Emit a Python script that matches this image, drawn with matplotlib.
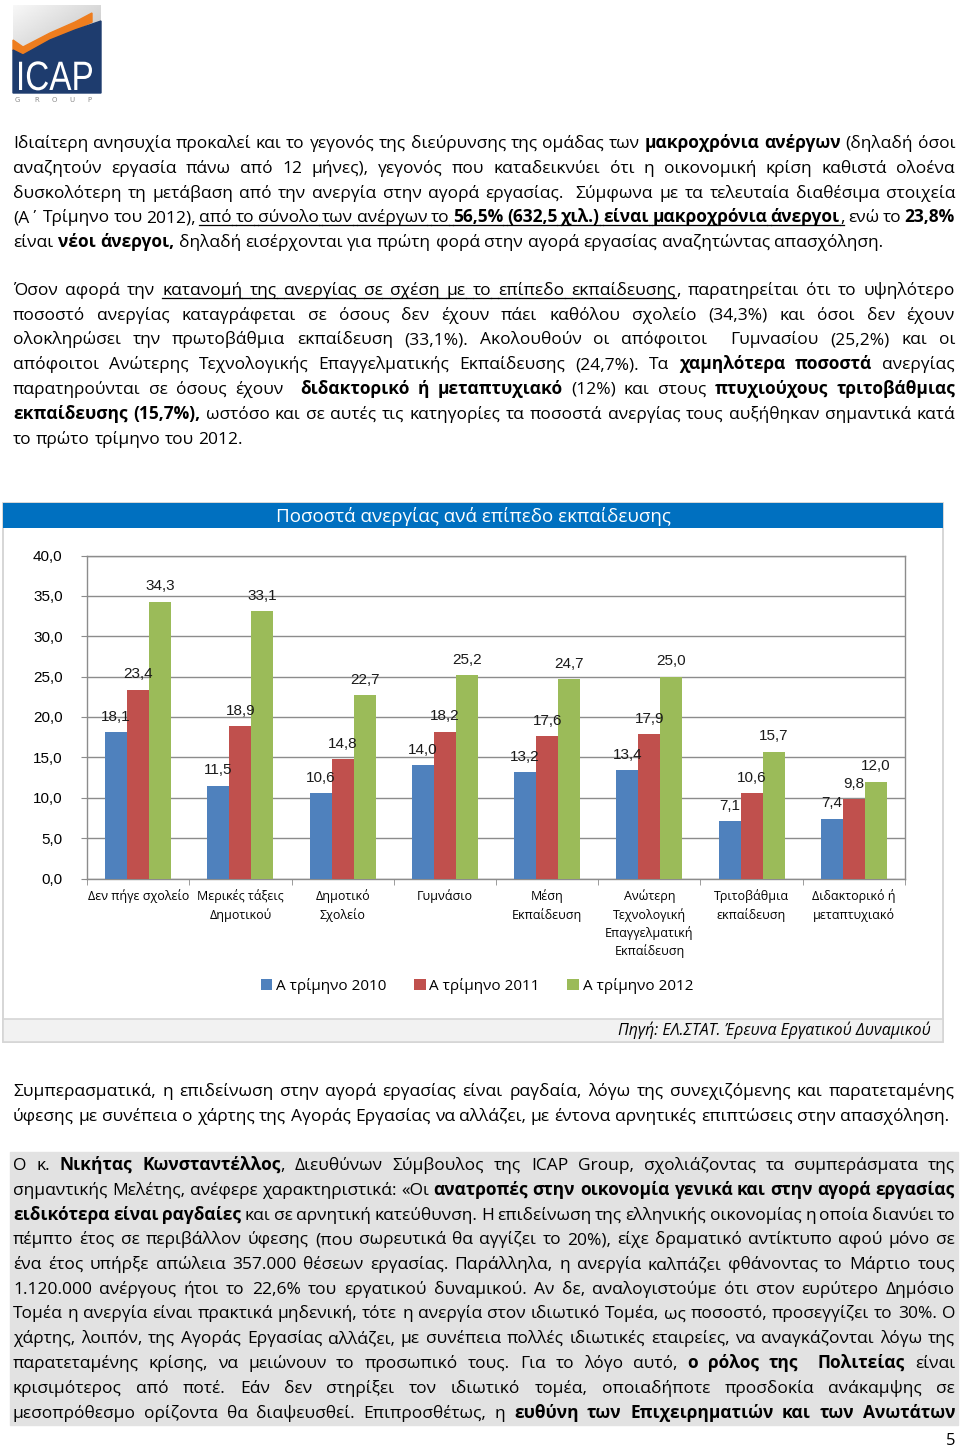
import re
import numpy as np
import matplotlib
matplotlib.use("Agg")
import matplotlib.pyplot as plt
from matplotlib.patches import Rectangle, Polygon, PathPatch
from matplotlib.textpath import TextPath
from matplotlib.font_manager import FontProperties
from matplotlib.transforms import Affine2D

# chart data
categories = ["Δεν πήγε σχολείο", "Μερικές τάξεις\nΔημοτικού", "Δημοτικό\nΣχολείο",
              "Γυμνάσιο", "Μέση\nΕκπαίδευση",
              "Ανώτερη\nΤεχνολογική\nΕπαγγελματική\nΕκπαίδευση",
              "Τριτοβάθμια\nεκπαίδευση", "Διδακτορικό ή\nμεταπτυχιακό"]
series = ["Α τρίμηνο 2010", "Α τρίμηνο 2011", "Α τρίμηνο 2012"]
q1_2010 = [18.1, 11.5, 10.6, 14.0, 13.2, 13.4, 7.1, 7.4]
q1_2011 = [23.4, 18.9, 14.8, 18.2, 17.6, 17.9, 10.6, 9.8]
q1_2012 = [34.3, 33.1, 22.7, 25.2, 24.7, 25.0, 15.7, 12.0]
yticks = [0, 5, 10, 15, 20, 25, 30, 35, 40]
ytick_labels = ["0,0", "5,0", "10,0", "15,0", "20,0", "25,0", "30,0", "35,0", "40,0"]
colors = ["#4F81BD", "#C0504D", "#9BBB59"]
title = "Ποσοστά ανεργίας ανά επίπεδο εκπαίδευσης"
source = "Πηγή: ΕΛ.ΣΤΑΤ. Έρευνα Εργατικού Δυναμικού"

# page text: one list of (text, style) runs per printed line
par1 = [
    [("Ιδιαίτερη ανησυχία προκαλεί και το γεγονός της διεύρυνσης της ομάδας των ", "n"),
     ("μακροχρόνια ανέργων", "b"), (" (δηλαδή όσοι", "n")],
    [("αναζητούν εργασία πάνω από 12 μήνες), γεγονός που καταδεικνύει ότι η οικονομική κρίση καθιστά ολοένα", "n")],
    [("δυσκολότερη τη μετάβαση από την ανεργία στην αγορά εργασίας.  Σύμφωνα με τα τελευταία διαθέσιμα στοιχεία", "n")],
    [("(Α΄ Τρίμηνο του 2012), ", "n"), ("από το σύνολο των ανέργων το ", "u"),
     ("56,5% (632,5 χιλ.) είναι μακροχρόνια άνεργοι", "bu"), (",", "u"),
     (" ενώ το ", "n"), ("23,8%", "b")],
    [("είναι ", "n"), ("νέοι άνεργοι,", "b"),
     (" δηλαδή εισέρχονται για πρώτη φορά στην αγορά εργασίας αναζητώντας απασχόληση.", "n")],
]
par2 = [
    [("Όσον αφορά την ", "n"), ("κατανομή της ανεργίας σε σχέση με το επίπεδο εκπαίδευσης", "u"),
     (", παρατηρείται ότι το υψηλότερο", "n")],
    [("ποσοστό ανεργίας καταγράφεται σε όσους δεν έχουν πάει καθόλου σχολείο (34,3%) και όσοι δεν έχουν", "n")],
    [("ολοκληρώσει την πρωτοβάθμια εκπαίδευση (33,1%). Ακολουθούν οι απόφοιτοι  Γυμνασίου (25,2%) και οι", "n")],
    [("απόφοιτοι Ανώτερης Τεχνολογικής Επαγγελματικής Εκπαίδευσης (24,7%). Τα ", "n"),
     ("χαμηλότερα ποσοστά", "b"), (" ανεργίας", "n")],
    [("παρατηρούνται σε όσους έχουν  ", "n"), ("διδακτορικό ή μεταπτυχιακό", "b"),
     (" (12%) και στους ", "n"), ("πτυχιούχους τριτοβάθμιας", "b")],
    [("εκπαίδευσης (15,7%),", "b"),
     (" ωστόσο και σε αυτές τις κατηγορίες τα ποσοστά ανεργίας τους αυξήθηκαν σημαντικά κατά", "n")],
    [("το πρώτο τρίμηνο του 2012.", "n")],
]
par3 = [
    [("Συμπερασματικά, η επιδείνωση στην αγορά εργασίας είναι ραγδαία, λόγω της συνεχιζόμενης και παρατεταμένης", "n")],
    [("ύφεσης με συνέπεια ο χάρτης της Αγοράς Εργασίας να αλλάζει, με έντονα αρνητικές επιπτώσεις στην απασχόληση.", "n")],
]
par4 = [
    [("Ο κ. ", "n"), ("Νικήτας Κωνσταντέλλος", "b"),
     (", Διευθύνων Σύμβουλος της ICAP Group, σχολιάζοντας τα συμπεράσματα της", "n")],
    [("σημαντικής Μελέτης, ανέφερε χαρακτηριστικά: «Οι ", "n"),
     ("ανατροπές στην οικονομία γενικά και στην αγορά εργασίας", "b")],
    [("ειδικότερα είναι ραγδαίες", "b"),
     (" και σε αρνητική κατεύθυνση. Η επιδείνωση της ελληνικής οικονομίας η οποία διανύει το", "n")],
    [("πέμπτο έτος σε περιβάλλον ύφεσης (που σωρευτικά θα αγγίζει το 20%), είχε δραματικό αντίκτυπο αφού μόνο σε", "n")],
    [("ένα έτος υπήρξε απώλεια 357.000 θέσεων εργασίας. Παράλληλα, η ανεργία καλπάζει φθάνοντας το Μάρτιο τους", "n")],
    [("1.120.000 ανέργους ήτοι το 22,6% του εργατικού δυναμικού. Αν δε, αναλογιστούμε ότι στον ευρύτερο Δημόσιο", "n")],
    [("Τομέα η ανεργία είναι πρακτικά μηδενική, τότε η ανεργία στον ιδιωτικό Τομέα, ως ποσοστό, προσεγγίζει το 30%. Ο", "n")],
    [("χάρτης, λοιπόν, της Αγοράς Εργασίας αλλάζει, με συνέπεια πολλές ιδιωτικές εταιρείες, να αναγκάζονται λόγω της", "n")],
    [("παρατεταμένης κρίσης, να μειώνουν το προσωπικό τους. Για το λόγο αυτό, ", "n"),
     ("ο ρόλος της  Πολιτείας", "b"), (" είναι", "n")],
    [("κρισιμότερος από ποτέ. Εάν δεν στηρίξει τον ιδιωτικό τομέα, οποιαδήποτε προσδοκία ανάκαμψης σε", "n")],
    [("μεσοπρόθεσμο ορίζοντα θα διαψευσθεί. Επιπροσθέτως, η ", "n"),
     ("ευθύνη των Επιχειρηματιών και των Ανωτάτων", "b")],
]

BODY = "Open Sans"

fig = plt.figure(figsize=(9.6, 14.49), dpi=100)
pg = fig.add_axes([0, 0, 1, 1])
pg.set_xlim(0, 960)
pg.set_ylim(1449, 0)
pg.axis("off")
pg.set_autoscale_on(False)
r = fig.canvas.get_renderer()


def tw(s, bold, size):
    t = pg.text(0, 0, s, fontsize=size, family=BODY, fontweight="bold" if bold else "normal")
    w = t.get_window_extent(renderer=r).width
    t.remove()
    return w


def split_words(line):
    words = []
    pending = 0
    for text, st in line:
        for p in re.split(r"( +)", text):
            if p == "":
                continue
            if p.startswith(" "):
                pending += len(p)
            elif words and pending == 0:
                words[-1][1].append((p, st))
            else:
                words.append([pending, [(p, st)]])
                pending = 0
    return words


def layout(line, size):
    out = []
    for gap, frags in split_words(line):
        ws = [tw(t, "b" in st, size) for t, st in frags]
        out.append((gap, frags, ws))
    return out


def space_w(size):
    return tw("n n", False, size) - tw("nn", False, size)


def natural(words, sp):
    return sum(sum(ws) for _, _, ws in words) + sum(g for g, _, _ in words[1:]) * sp


def draw_par(lines, y, size, x0=13, x1=955, lead=24.75, justify_last=False):
    sp = space_w(size)
    for k, line in enumerate(lines):
        words = layout(line, size)
        nsp = sum(g for g, _, _ in words[1:])
        extra = 0
        if (k < len(lines) - 1 or justify_last) and nsp:
            extra = (x1 - x0 - natural(words, sp)) / nsp
        base = y + k * lead + 5
        x = x0
        prev_u = False
        for i, (gap, frags, ws) in enumerate(words):
            if i:
                xs = x
                x += gap * (sp + extra)
                if prev_u and "u" in frags[0][1]:
                    pg.plot([xs, x], [base + 2.5] * 2, color="black", lw=0.9)
            for (t, st), w in zip(frags, ws):
                pg.text(x, base, t, fontsize=size, family=BODY, va="baseline", ha="left",
                        fontweight="bold" if "b" in st else "normal", color="black")
                if "u" in st:
                    pg.plot([x, x + w], [base + 2.5] * 2, color="black", lw=0.9)
                x += w
            prev_u = "u" in frags[-1][1]


# body font size: fit the last line of par3 to its width in the page
FS = 10 * 935 / natural(layout(par3[1], 10), space_w(10))

# logo
grad = np.linspace(0.97, 0.78, 60)[:, None] * np.ones((1, 60))
grad = grad - np.linspace(0, 0.12, 60)[None, :]
pg.imshow(grad, cmap="gray", vmin=0, vmax=1, extent=(13, 101, 93, 5), aspect="auto", zorder=1)
pg.add_patch(Polygon([(13, 40), (23, 47), (50, 33), (75, 22), (92, 13),
                      (92, 22), (75, 30), (50, 40), (23, 55), (13, 50)],
                     closed=True, color="#EE7D1E", zorder=2))
pg.add_patch(Polygon([(13, 50), (23, 55), (50, 40), (75, 30), (101, 21), (101, 93), (13, 93)],
                     closed=True, color="#1E3C6E", zorder=2))
tp = TextPath((0, 0), "ICAP", size=1, prop=FontProperties(family="Liberation Sans"))
ext = tp.get_extents()
sx = 73 / ext.width
sy = 30 / 0.73
pp = PathPatch(Affine2D().scale(sx, -sy).translate(19 - ext.x0 * sx, 90).transform_path(tp),
               facecolor="white", edgecolor="none", zorder=3)
pg.add_patch(pp)
for lx, ch in zip([17, 37, 54, 72, 89], "GROUP"):
    pg.text(lx, 100, ch, fontsize=5, color="#8a8a8a", ha="center", va="center", family="DejaVu Sans")
pg.set_xlim(0, 960)
pg.set_ylim(1449, 0)

# paragraphs
draw_par(par1, 143, FS)
draw_par(par2, 290, FS)
draw_par(par3, 1091, FS)
pg.add_patch(Rectangle((10, 1152), 948, 273, color="#E2E2E2", zorder=0))
draw_par(par4, 1165, FS, justify_last=True)
pg.text(955, 1441, "5", fontsize=12, family=BODY, ha="right", va="center")

# chart frame
pg.add_patch(Rectangle((3, 503), 940, 539, facecolor="white", edgecolor="#D0D0D0", lw=1.2, zorder=0.5))
pg.add_patch(Rectangle((3, 1019), 940, 23, facecolor="#F2F2F2", edgecolor="#D6D6D6", lw=1.2, zorder=0.6))
pg.add_patch(Rectangle((3, 503), 940, 25, facecolor="#0070C0", edgecolor="none", zorder=0.7))
pg.text(473, 516, title, color="white", fontsize=13.5, family=BODY, ha="center", va="center")
pg.text(931, 1030, source, fontsize=11.4, family=BODY, style="italic", ha="right", va="center")

# bar chart
ax = fig.add_axes([87 / 960, 1 - 878.5 / 1449, (905 - 87) / 960, (878.5 - 555.5) / 1449])
ax.set_facecolor("none")
x = np.arange(len(categories))
w = 0.215
gc = "#8C8C8C"
for k, vals in enumerate([q1_2010, q1_2011, q1_2012]):
    bars = ax.bar(x + (k - 1) * w, vals, w, color=colors[k], label=series[k], zorder=3)
    ax.bar_label(bars, fmt=lambda v: f"{v:.1f}".replace(".", ","), padding=6,
                 fontsize=11, family="Liberation Sans", color="#1a1a1a", zorder=6)
ax.set_xlim(-0.5, len(categories) - 0.5)
ax.set_ylim(0, 40)
ax.set_yticks(yticks)
ax.set_yticklabels(ytick_labels, fontsize=11, family="Liberation Sans")
ax.set_xticks(x)
ax.set_xticklabels(categories, fontsize=9, family=BODY, linespacing=1.4)
ax.set_xticks(np.arange(len(categories) + 1) - 0.5, minor=True)
ax.tick_params(axis="x", which="major", length=0, pad=8)
ax.tick_params(axis="x", which="minor", length=4, color=gc, direction="out")
ax.tick_params(axis="y", length=4, color=gc, pad=13.5)
ax.yaxis.grid(True, color=gc, lw=1.0)
ax.set_axisbelow(True)
for s in ax.spines.values():
    s.set_color(gc)
    s.set_linewidth(1.0)
ax.legend(loc="center", bbox_to_anchor=(477 / 960, 1 - 986 / 1449), bbox_transform=fig.transFigure,
          ncol=3, frameon=False, handlelength=0.75, handleheight=0.75, handletextpad=0.25,
          columnspacing=1.8, prop=FontProperties(family=BODY, size=11))

fig.savefig("out.png", dpi=100)
